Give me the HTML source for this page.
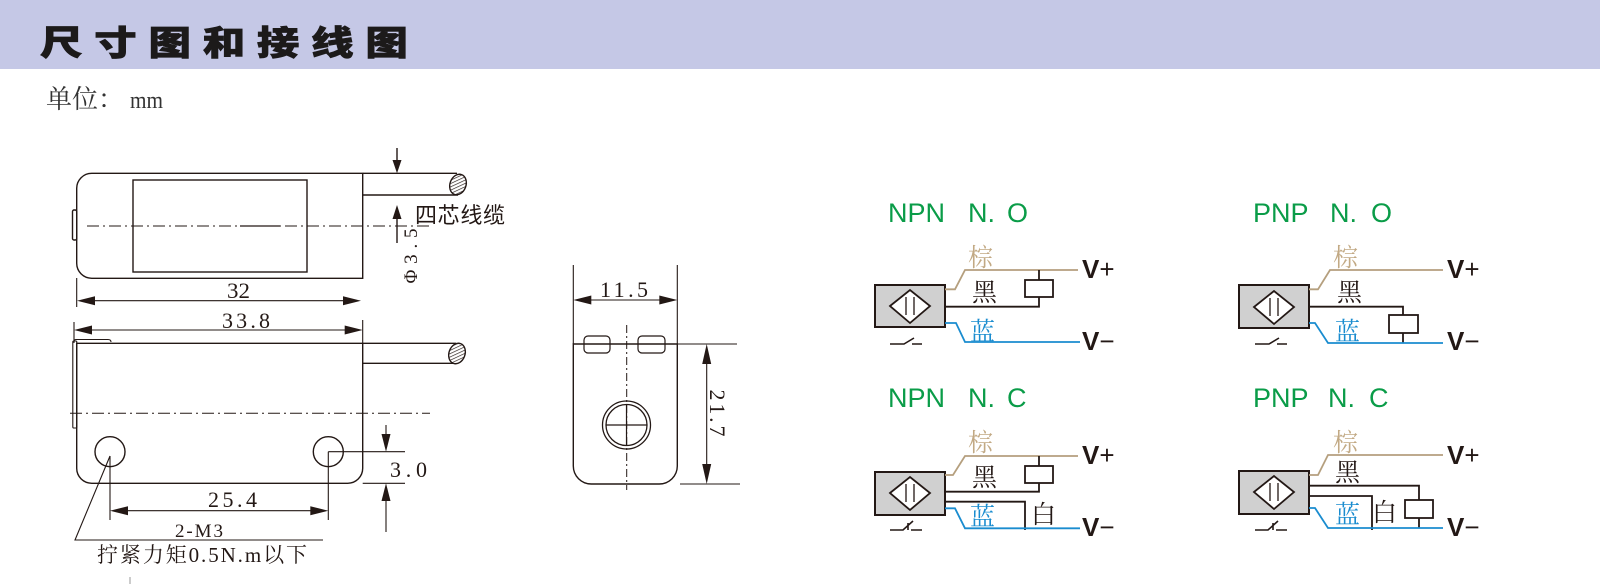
<!DOCTYPE html>
<html><head><meta charset="utf-8">
<style>
html,body{margin:0;padding:0;background:#fff;width:1600px;height:584px;overflow:hidden;}
svg{display:block;}
</style></head><body>
<svg width="1600" height="584" viewBox="0 0 1600 584" xmlns="http://www.w3.org/2000/svg">
<defs>
<pattern id="hatch" width="3" height="3" patternUnits="userSpaceOnUse" patternTransform="rotate(45)">
<rect width="3" height="3" fill="#fff"/>
<line x1="0" y1="0" x2="0" y2="3" stroke="#231815" stroke-width="1.3"/>
</pattern>
</defs>

<!-- header -->
<rect x="0" y="0" width="1600" height="69" fill="#c5c8e6"/>
<text transform="translate(40,55) scale(1.25,1)" font-family="'Noto Sans CJK SC','WenQuanYi Zen Hei',sans-serif" font-weight="900" font-size="34" letter-spacing="9.4" fill="#1c1a1a" stroke="#1c1a1a" stroke-width="0.7">尺寸图和接线图</text>
<text x="46" y="108" font-family="'Noto Serif CJK SC',serif" font-size="26" fill="#333">单位：</text>
<text x="130" y="108" font-family="'Liberation Serif',serif" font-size="24" fill="#333" textLength="33" lengthAdjust="spacingAndGlyphs">mm</text>

<g fill="none" stroke="#231815" stroke-width="1.4">
<!-- ===== top view ===== -->
<path d="M362.7,173.3 H91.7 A15,15 0 0 0 76.7,188.3 V263.3 A15,15 0 0 0 91.7,278.3 H362.7 Z"/>
<rect x="72.5" y="210" width="4.2" height="30" rx="1.5"/>
<rect x="133" y="180" width="174" height="92"/>
<path d="M362.7,173.3 H457 M362.7,195 H458"/>
<ellipse cx="458" cy="184.5" rx="8" ry="10.5" transform="rotate(20 458 184.5)" fill="url(#hatch)"/>
<line x1="87" y1="226" x2="430" y2="226" stroke-width="1" stroke-dasharray="12,4,2,4"/>
<line x1="240" y1="226" x2="280" y2="226" stroke-width="1.2"/>
<!-- phi 3.5 -->
<line x1="397" y1="148" x2="397" y2="162"/>
<line x1="397" y1="218" x2="397" y2="243"/>
<!-- 32 -->
<line x1="76.7" y1="278" x2="76.7" y2="307" stroke-width="1.1"/>
<line x1="90" y1="300.7" x2="350" y2="300.7" stroke-width="1.1"/>

<!-- ===== side view ===== -->
<line x1="74" y1="322" x2="74" y2="342" stroke-width="1.1"/>
<line x1="362.7" y1="320" x2="362.7" y2="343" stroke-width="1.1"/>
<line x1="88" y1="330" x2="350" y2="330" stroke-width="1.1"/>
<path d="M76.7,343.3 H362.7 V468.3 A15,15 0 0 1 347.7,483.3 H91.7 A15,15 0 0 1 76.7,468.3 Z"/>
<rect x="72.8" y="341" width="4" height="87" rx="1" stroke-width="1.1"/>
<path d="M74,343 V341.5 Q74,339.5 76,339.5 H108 Q111,339.5 111,342" stroke-width="1.1"/>
<path d="M362.7,343.3 H456 M362.7,363.3 H458"/>
<ellipse cx="457" cy="353.5" rx="8" ry="10.5" transform="rotate(20 457 353.5)" fill="url(#hatch)"/>
<line x1="70" y1="413.3" x2="430" y2="413.3" stroke-width="1" stroke-dasharray="12,4,2,4"/>
<circle cx="110" cy="451.7" r="15"/>
<circle cx="328.3" cy="451.7" r="15"/>
<line x1="110" y1="456" x2="110" y2="520" stroke-width="1.1"/>
<line x1="328.3" y1="451.7" x2="328.3" y2="520" stroke-width="1.1"/>
<line x1="328.3" y1="451.7" x2="405" y2="451.7" stroke-width="1.1"/>
<line x1="362.7" y1="483.3" x2="405" y2="483.3" stroke-width="1.1"/>
<line x1="386" y1="425" x2="386" y2="436" stroke-width="1.1"/>
<line x1="386" y1="499" x2="386" y2="532" stroke-width="1.1"/>
<line x1="124" y1="510.7" x2="314" y2="510.7" stroke-width="1.1"/>
<path d="M110,456 L75,540 H323" stroke-width="1.1"/>
<line x1="130" y1="577" x2="130" y2="584" stroke="#999" stroke-width="1"/>

<!-- ===== end view ===== -->
<line x1="573.3" y1="265" x2="573.3" y2="344" stroke-width="1.1"/>
<line x1="677.3" y1="265" x2="677.3" y2="344" stroke-width="1.1"/>
<line x1="588" y1="300" x2="663" y2="300" stroke-width="1.1"/>
<path d="M573.3,344 H677.3 V466 A18,18 0 0 1 659.3,484 H591.3 A18,18 0 0 1 573.3,466 Z"/>
<line x1="677.3" y1="344" x2="737" y2="344" stroke-width="1.1"/>
<line x1="680" y1="484" x2="740" y2="484" stroke-width="1.1"/>
<rect x="584" y="336" width="26" height="17" rx="4" stroke-width="1.2"/>
<rect x="638" y="336" width="27" height="17" rx="4" stroke-width="1.2"/>
<line x1="626.7" y1="325" x2="626.7" y2="490" stroke-width="1" stroke-dasharray="8,3,2,3"/>
<circle cx="626.5" cy="425" r="24" stroke-width="1.3"/>
<circle cx="626.5" cy="425" r="20.5" stroke-width="1.3"/>
<line x1="606" y1="425" x2="647" y2="425" stroke-width="1.2"/>
<line x1="626.5" y1="404.5" x2="626.5" y2="445.5" stroke-width="1.2"/>
<line x1="706.7" y1="360" x2="706.7" y2="468" stroke-width="1.1"/>
</g>

<!-- arrowheads -->
<g fill="#231815" stroke="none">
<polygon points="397,173.3 392.5,160 401.5,160"/>
<polygon points="397,205 392.5,219 401.5,219"/>
<polygon points="77,300.7 95,296.2 95,305.2"/>
<polygon points="361,300.7 343,296.2 343,305.2"/>
<polygon points="74,330 92,325.5 92,334.5"/>
<polygon points="362.7,330 344.7,325.5 344.7,334.5"/>
<polygon points="386,451.7 381.5,434 390.5,434"/>
<polygon points="386,483.3 381.5,501 390.5,501"/>
<polygon points="110,510.7 128,506.2 128,515.2"/>
<polygon points="328.3,510.7 310.3,506.2 310.3,515.2"/>
<polygon points="573.3,300 591.3,295.5 591.3,304.5"/>
<polygon points="677.3,300 659.3,295.5 659.3,304.5"/>
<polygon points="706.7,344 702.2,364 711.2,364"/>
<polygon points="706.7,484 702.2,464 711.2,464"/>
</g>

<!-- drawing texts -->
<g fill="#231815" font-family="'Liberation Serif',serif">
<text transform="translate(417,256) rotate(-90)" text-anchor="middle" font-size="19" textLength="55" lengthAdjust="spacing">Φ3.5</text>
<text x="227" y="298" font-size="22" textLength="23" lengthAdjust="spacingAndGlyphs">32</text>
<text x="222" y="328" font-size="22" textLength="48" lengthAdjust="spacing">33.8</text>
<text x="390" y="477" font-size="22" textLength="37" lengthAdjust="spacing">3.0</text>
<text x="208" y="507" font-size="22" textLength="49" lengthAdjust="spacing">25.4</text>
<text x="175" y="537" font-size="19" textLength="48" lengthAdjust="spacing">2-M3</text>
<text x="600" y="297" font-size="22" textLength="48" lengthAdjust="spacing">11.5</text>
<text transform="translate(710,413) rotate(90)" text-anchor="middle" font-size="22" textLength="47" lengthAdjust="spacing">21.7</text>
<text x="97" y="562" font-family="'Liberation Serif','Noto Serif CJK SC',serif" font-size="21" textLength="210" lengthAdjust="spacing">拧紧力矩0.5N.m以下</text>
<text x="415" y="223" font-family="'Noto Sans CJK SC',sans-serif" font-size="22" textLength="90" lengthAdjust="spacing">四芯线缆</text>
</g>

<!-- ===== wiring diagrams ===== -->
<g font-family="'Liberation Sans',Arial,sans-serif" font-size="27" fill="#0a9c48">
<text x="888" y="222">NPN</text><text x="968" y="222">N.</text><text x="1007" y="222">O</text>
<text x="1253" y="222">PNP</text><text x="1330" y="222">N.</text><text x="1371" y="222">O</text>
<text x="888" y="407">NPN</text><text x="968" y="407">N.</text><text x="1007" y="407">C</text>
<text x="1253" y="407">PNP</text><text x="1328" y="407">N.</text><text x="1369" y="407">C</text>
</g>

<!-- sensor boxes -->
<g stroke="#231815" stroke-width="2" fill="#d0d0d0">
<rect x="875" y="285" width="70" height="42"/>
<rect x="1239" y="285" width="70" height="43"/>
<rect x="875" y="472" width="70" height="43"/>
<rect x="1239" y="471" width="70" height="43"/>
</g>
<g stroke="#231815" stroke-width="1.8" fill="none">
<polygon points="890,306 910,290 930,306 910,323" fill="#fff"/>
<path d="M906,297 V315 M914,297 V315" stroke-width="1.3"/>
<polygon points="1254,307 1274,291 1294,307 1274,324" fill="#fff"/>
<path d="M1270,298 V316 M1278,298 V316" stroke-width="1.3"/>
<polygon points="890,493 910,477 930,493 910,510" fill="#fff"/>
<path d="M906,484 V502 M914,484 V502" stroke-width="1.3"/>
<polygon points="1254,492 1274,476 1294,492 1274,509" fill="#fff"/>
<path d="M1270,483 V501 M1278,483 V501" stroke-width="1.3"/>
</g>

<!-- switch symbols -->
<g stroke="#231815" stroke-width="1.6" fill="none">
<path d="M890,344 H904 L914,338 M912,344 H922"/>
<path d="M1255,344 H1269 L1279,338 M1277,344 H1287"/>
<path d="M890,530 H903 L913,521 M908,523 V530 M911,530 H922"/>
<path d="M1255,530 H1268 L1278,521 M1273,523 V530 M1276,530 H1287"/>
</g>

<!-- brown wires -->
<g stroke="#b59f7e" stroke-width="1.8" fill="none">
<path d="M945,289.3 H955 L965,270 H1078"/>
<path d="M1309,289.3 H1318 L1330,270 H1443"/>
<path d="M945,475 H953 L965,456 H1078"/>
<path d="M1309,475 H1318 L1328,455 H1443"/>
</g>
<!-- black wires & relays -->
<g stroke="#231815" stroke-width="1.8" fill="none">
<path d="M1039,270 V280 M1039,297 V306.7 H945"/>
<rect x="1025" y="280" width="28" height="17" fill="#fff"/>
<path d="M1309,306.7 H1403 V315 M1403,333 V343"/>
<rect x="1389" y="315" width="29" height="18" fill="#fff"/>
<path d="M1039,456 V466 M1039,483 V491.7 H945"/>
<rect x="1025" y="466" width="28" height="17" fill="#fff"/>
<path d="M945,501.7 H1025 V530"/>
<path d="M1309,485.7 H1419 V500 M1419,518 V528"/>
<rect x="1405" y="500" width="28" height="18" fill="#fff"/>
<path d="M1309,496 H1372 V530"/>
</g>
<!-- blue wires -->
<g stroke="#1a8ccf" stroke-width="1.8" fill="none">
<path d="M945,323 H956 L965,342 H1080"/>
<path d="M1309,323 H1315 L1328,343 H1443"/>
<path d="M945,508.3 H955 L965,528.3 H1080"/>
<path d="M1309,508 H1315 L1328,528 H1443"/>
</g>

<!-- wire labels -->
<g font-family="'Noto Serif CJK SC','Noto Sans CJK SC',serif" font-size="25">
<text x="968" y="266" fill="#c2a984">棕</text>
<text x="972" y="301" fill="#231815">黑</text>
<text x="970" y="340" fill="#1a8ccf">蓝</text>
<text x="1333" y="266" fill="#c2a984">棕</text>
<text x="1337" y="301" fill="#231815">黑</text>
<text x="1335" y="340" fill="#1a8ccf">蓝</text>
<text x="968" y="451" fill="#c2a984">棕</text>
<text x="972" y="486" fill="#231815">黑</text>
<text x="1031" y="523" fill="#231815">白</text>
<text x="970" y="525" fill="#1a8ccf">蓝</text>
<text x="1333" y="451" fill="#c2a984">棕</text>
<text x="1335" y="481" fill="#231815">黑</text>
<text x="1372" y="521" fill="#231815">白</text>
<text x="1335" y="523" fill="#1a8ccf">蓝</text>
</g>

<!-- V+ / V- -->
<g font-family="'Liberation Sans',Arial,sans-serif" font-size="26" fill="#231815">
<text x="1082" y="278"><tspan font-weight="bold">V</tspan><tspan>+</tspan></text>
<text x="1082" y="350"><tspan font-weight="bold">V</tspan><tspan>−</tspan></text>
<text x="1447" y="278"><tspan font-weight="bold">V</tspan><tspan>+</tspan></text>
<text x="1447" y="350"><tspan font-weight="bold">V</tspan><tspan>−</tspan></text>
<text x="1082" y="464"><tspan font-weight="bold">V</tspan><tspan>+</tspan></text>
<text x="1082" y="536"><tspan font-weight="bold">V</tspan><tspan>−</tspan></text>
<text x="1447" y="464"><tspan font-weight="bold">V</tspan><tspan>+</tspan></text>
<text x="1447" y="536"><tspan font-weight="bold">V</tspan><tspan>−</tspan></text>
</g>
</svg>
</body></html>
